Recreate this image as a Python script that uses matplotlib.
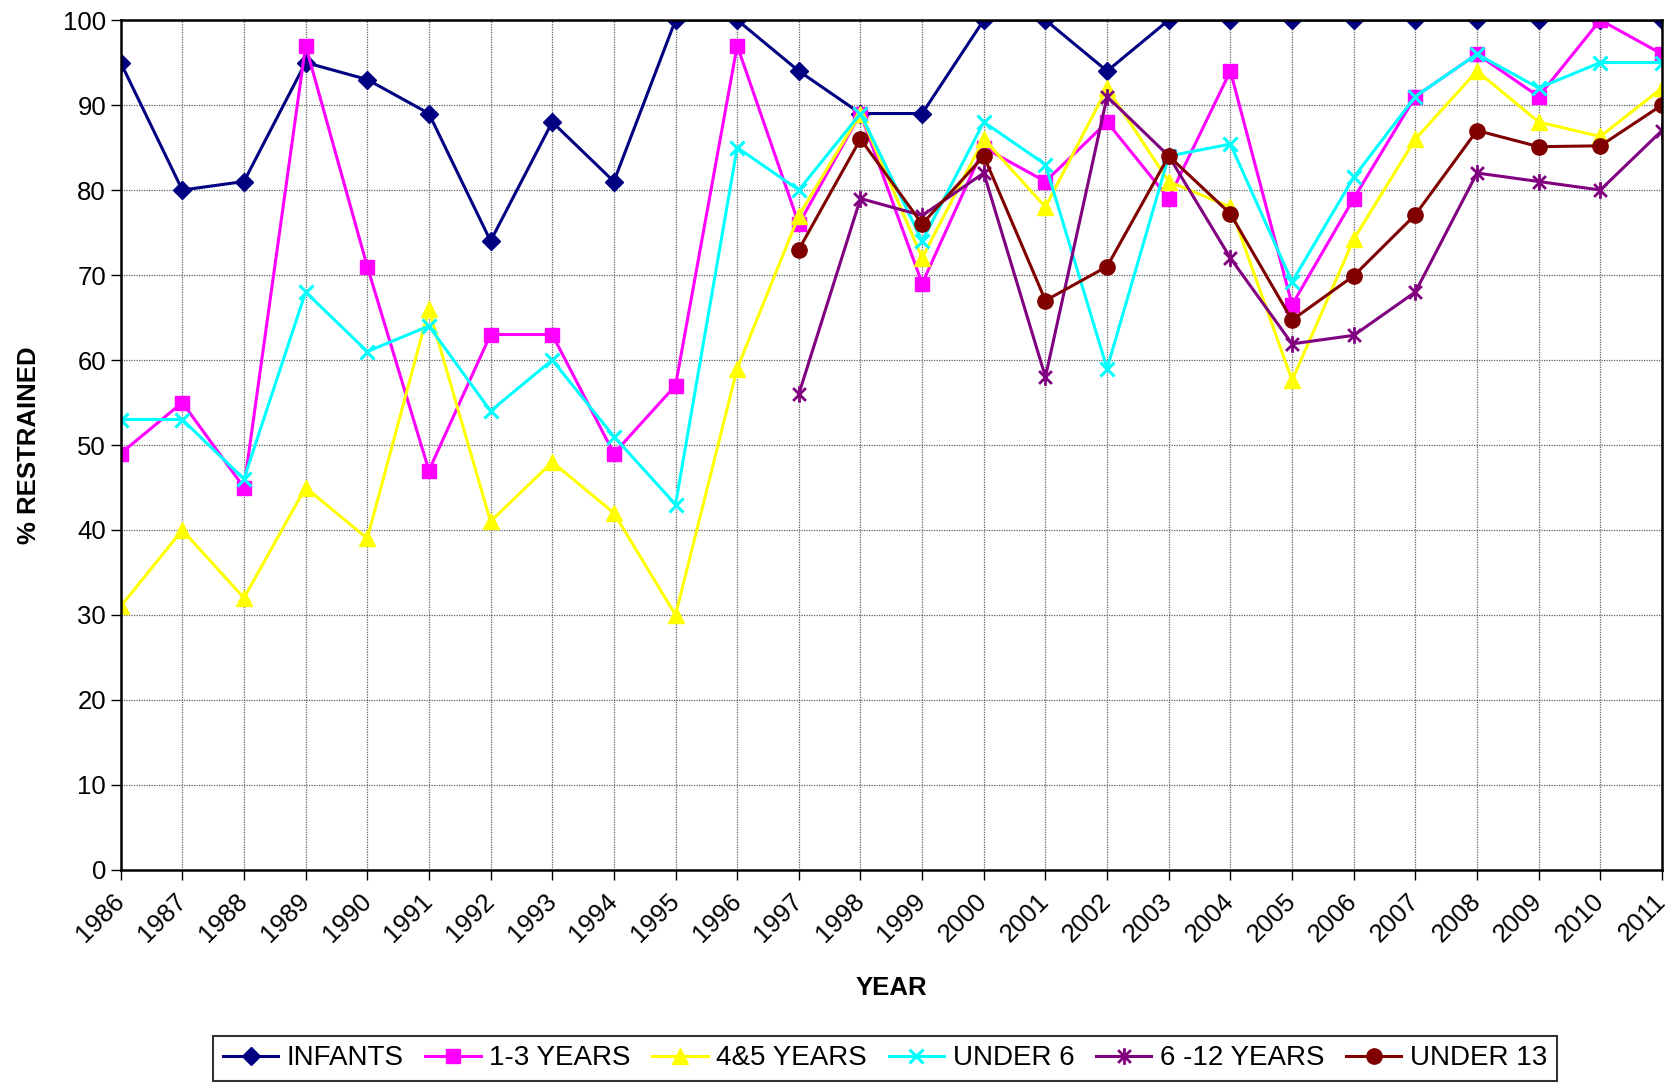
import numpy as np
import matplotlib.pyplot as plt
from matplotlib.path import Path

plt.rcParams['font.family'] = ['Liberation Sans', 'DejaVu Sans']

# Data
years = [str(y) for y in range(1986, 2012)]
nan = np.nan

infants = [95, 80, 81, 95, 93, 89, 74, 88, 81, 100, 100, 94, 89, 89, 100, 100,
           94, 100, 100, 100, 100, 100, 100, 100, 100, 100]
yrs_1_3 = [49, 55, 45, 97, 71, 47, 63, 63, 49, 57, 97, 76, 89, 69, 85, 81,
           88, 79, 94, 66.5, 79, 91, 96, 91, 100, 96]
yrs_4_5 = [31, 40, 32, 45, 39, 66, 41, 48, 42, 30, 59, 77, 89, 72, 86, 78,
           92, 81, 78, 57.6, 74.2, 86, 94, 88, 86.3, 92]
under_6 = [53, 53, 46, 68, 61, 64, 54, 60, 51, 43, 85, 80, 89, 74, 88, 83,
           59, 84, 85.4, 69.2, 81.5, 91, 96, 92, 95, 95]
yrs_6_12 = [nan] * 11 + [56, 79, 77, 82, 58, 91, 84, 72, 61.9, 62.9, 68, 82, 81, 80, 87]
under_13 = [nan] * 11 + [73, 86, 76, 84, 67, 71, 84, 77.2, 64.7, 69.9, 77.1, 87, 85.1, 85.2, 90]

# asterisk marker like Excel's (x with a vertical bar)
star = Path([(-1, -1), (1, 1), (-1, 1), (1, -1), (0, -1.3), (0, 1.3)],
            [Path.MOVETO, Path.LINETO, Path.MOVETO, Path.LINETO, Path.MOVETO, Path.LINETO])

fig = plt.figure(figsize=(16.71, 10.83), dpi=100)
ax = fig.add_axes([0.0722, 0.1967, 0.9224, 0.7848])

x = np.arange(len(years))
lw = 2.2
ax.plot(x, infants, color='#000080', lw=lw, marker='D', ms=9, label='INFANTS')
ax.plot(x, yrs_1_3, color='#FF00FF', lw=lw, marker='s', ms=10, label='1-3 YEARS')
ax.plot(x, yrs_4_5, color='#FFFF00', lw=lw, marker='^', ms=11, label='4&5 YEARS')
ax.plot(x, under_6, color='#00FFFF', lw=lw, marker='x', ms=10, mew=2.2, label='UNDER 6')
ax.plot(x, yrs_6_12, color='#800080', lw=lw, marker=star, ms=12, mew=2, label='6 -12 YEARS')
ax.plot(x, under_13, color='#800000', lw=lw, marker='o', ms=11, label='UNDER 13')

ax.set_xlim(0, len(years) - 1)
ax.set_ylim(0, 100)
ax.set_yticks(range(0, 101, 10))
ax.set_xticks(x)
ax.set_xticklabels(years, rotation=45, ha='right', va='center', rotation_mode='anchor')
ax.tick_params(axis='both', labelsize=18.5, direction='out', length=7, width=1, colors='black')
ax.tick_params(axis='x', pad=13)

ax.grid(True, color='#606060', linestyle=(0, (1, 1)), linewidth=0.9)
ax.set_axisbelow(True)
for s in ax.spines.values():
    s.set_linewidth(1.8)
    s.set_color('black')

ax.set_xlabel('YEAR', fontsize=18.5, fontweight='bold', labelpad=21)
ax.set_ylabel('% RESTRAINED', fontsize=18.5, fontweight='bold', labelpad=16)

leg = fig.legend(loc='upper left', bbox_to_anchor=(0.1275, 0.0437), ncol=6,
                 fontsize=20, frameon=True, fancybox=False, edgecolor='black',
                 numpoints=1, handlelength=2.0, handletextpad=0.3,
                 columnspacing=0.78, borderpad=0.35, borderaxespad=0)
leg.get_frame().set_linewidth(1.5)

fig.savefig('out.png', dpi=100)
